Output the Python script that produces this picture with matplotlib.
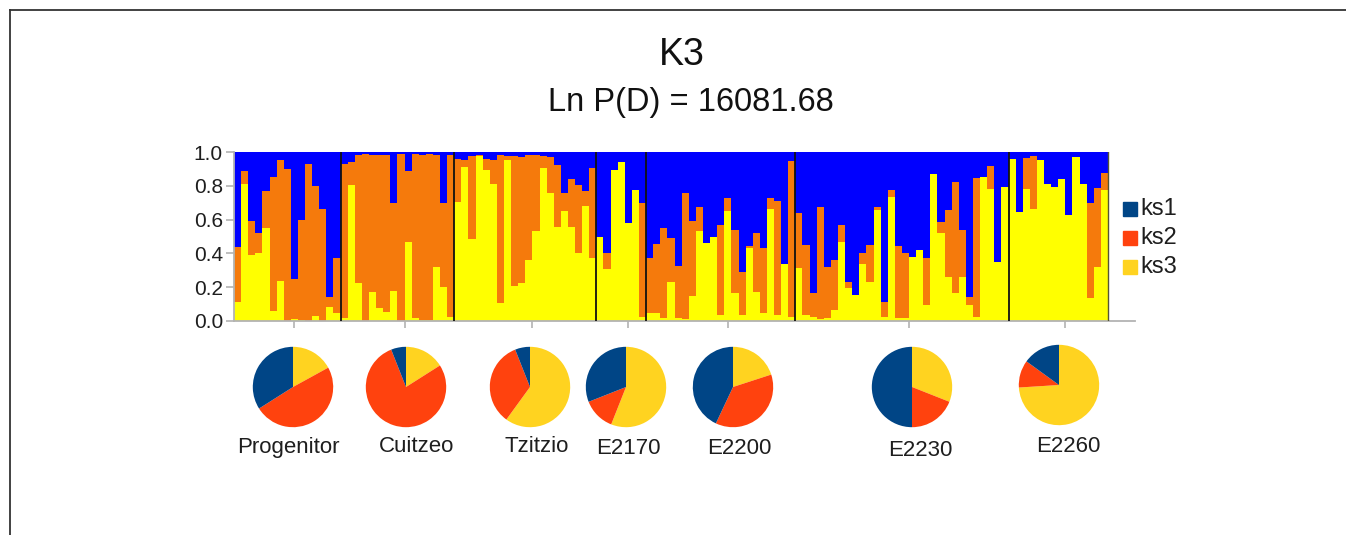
import matplotlib
matplotlib.use("Agg")
import matplotlib.pyplot as plt
import numpy as np
from matplotlib.patches import Rectangle
from matplotlib.lines import Line2D

plt.rcParams['font.family'] = ['Liberation Sans', 'DejaVu Sans']

# ---------------- data ----------------
title = "K3"
subtitle = "Ln P(D) = 16081.68"
cluster_labels = ["ks1", "ks2", "ks3"]
group_names = ["Progenitor", "Cuitzeo", "Tzitzio", "E2170", "E2200", "E2230", "E2260"]
group_sizes = [15, 16, 20, 7, 21, 30, 14]

# membership proportions per individual (ks1 = 1 - ks2 - ks3)
ks3 = [
    # Progenitor
    0.115, 0.81, 0.39, 0.40, 0.55, 0.06, 0.235, 0.0, 0.01, 0.005, 0.0, 0.03, 0.0, 0.08, 0.045,
    # Cuitzeo
    0.02, 0.805, 0.227, 0.0, 0.17, 0.075, 0.055, 0.18, 0.0, 0.47, 0.015, 0.005, 0.005, 0.32, 0.20, 0.025,
    # Tzitzio
    0.705, 0.91, 0.485, 0.975, 0.895, 0.81, 0.105, 0.95, 0.21, 0.227, 0.36, 0.53, 0.905, 0.76,
    0.555, 0.65, 0.555, 0.40, 0.68, 0.37,
    # E2170
    0.50, 0.31, 0.895, 0.94, 0.58, 0.775, 0.025,
    # E2200
    0.045, 0.045, 0.02, 0.23, 0.015, 0.01, 0.145, 0.535, 0.46, 0.50, 0.035, 0.65, 0.165, 0.035,
    0.43, 0.17, 0.045, 0.665, 0.035, 0.34, 0.025,
    # E2230
    0.315, 0.035, 0.025, 0.01, 0.015, 0.065, 0.47, 0.193, 0.154, 0.34, 0.233, 0.655, 0.025, 0.732,
    0.015, 0.015, 0.38, 0.42, 0.095, 0.868, 0.523, 0.263, 0.164, 0.263, 0.095, 0.025, 0.85, 0.78,
    0.35, 0.795,
    # E2260
    0.957, 0.647, 0.78, 0.66, 0.953, 0.81, 0.795, 0.838, 0.627, 0.968, 0.81, 0.134, 0.32, 0.775,
]
ks2 = [
    # Progenitor
    0.32, 0.075, 0.20, 0.12, 0.22, 0.79, 0.715, 0.90, 0.24, 0.59, 0.93, 0.77, 0.66, 0.06, 0.325,
    # Cuitzeo
    0.91, 0.135, 0.753, 0.99, 0.81, 0.905, 0.925, 0.52, 0.99, 0.42, 0.975, 0.975, 0.985, 0.66, 0.50, 0.955,
    # Tzitzio
    0.255, 0.04, 0.49, 0.005, 0.065, 0.145, 0.875, 0.025, 0.765, 0.743, 0.62, 0.45, 0.07, 0.21,
    0.37, 0.105, 0.285, 0.405, 0.09, 0.535,
    # E2170
    0.0, 0.09, 0.0, 0.0, 0.0, 0.0, 0.675,
    # E2200
    0.325, 0.41, 0.53, 0.26, 0.31, 0.75, 0.445, 0.14, 0.0, 0.0, 0.535, 0.08, 0.375, 0.255,
    0.015, 0.35, 0.385, 0.06, 0.675, 0.0, 0.92,
    # E2230
    0.322, 0.415, 0.14, 0.665, 0.305, 0.295, 0.098, 0.04, 0.0, 0.06, 0.217, 0.02, 0.089, 0.043,
    0.429, 0.385, 0.0, 0.0, 0.275, 0.0, 0.065, 0.394, 0.66, 0.275, 0.049, 0.823, 0.0, 0.14,
    0.0, 0.0,
    # E2260
    0.0, 0.0, 0.183, 0.316, 0.0, 0.0, 0.0, 0.0, 0.0, 0.0, 0.0, 0.566, 0.465, 0.103,
]

# population-level mean memberships shown as pies
pie_ks1 = [0.34, 0.06, 0.06, 0.31, 0.43, 0.50, 0.15]
pie_ks2 = [0.49, 0.78, 0.34, 0.13, 0.37, 0.19, 0.11]
pie_ks3 = [0.17, 0.16, 0.60, 0.56, 0.20, 0.31, 0.74]

# ---------------- style ----------------
W, H = 1346, 535
bar_blue, bar_orange, bar_yellow = "#0000ff", "#f57a0c", "#ffff00"
pie_blue, pie_orange, pie_yellow = "#004586", "#ff420e", "#ffd320"
axis_gray = "#b3b3b3"
text_col = "#1e1e1e"

fig = plt.figure(figsize=(W / 100, H / 100), dpi=100)
fig.patch.set_facecolor("white")

# frame lines (top & left border of the original panel)
fig.add_artist(Line2D([10 / W, 10 / W], [0, 1 - 10 / H], color="#333333", lw=1.3))
fig.add_artist(Line2D([10 / W, 1], [1 - 10 / H, 1 - 10 / H], color="#333333", lw=1.3))

# ---------------- bar plot ----------------
n_total = len(ks3)
px_per_bar = (1108 - 234) / n_total
ax_left, ax_right, ax_top, ax_bottom = 234, 1135, 152, 321
ax = fig.add_axes([ax_left / W, 1 - ax_bottom / H, (ax_right - ax_left) / W, (ax_bottom - ax_top) / H])

k3 = np.array(ks3)
k2 = np.array(ks2)
k1 = 1 - k2 - k3
x = np.arange(n_total)
common = dict(width=1, align="edge", linewidth=0, antialiased=False)
ax.bar(x, k3, color=bar_yellow, **common)
ax.bar(x, k2, bottom=k3, color=bar_orange, **common)
ax.bar(x, k1, bottom=k3 + k2, color=bar_blue, **common)

bounds = np.cumsum(group_sizes)
for b in bounds[:-1]:
    ax.axvline(b, color="#111111", lw=1.3, zorder=5)
ax.axvline(bounds[-1], color="#555533", lw=1.0, zorder=5)

ax.set_xlim(0, (ax_right - ax_left) / px_per_bar)
ax.set_ylim(0, 1)
starts = np.concatenate([[0], bounds[:-1]])
centers = starts + np.array(group_sizes) / 2 + 1.0
ax.set_xticks(centers)
ax.set_xticklabels([])
ax.tick_params(axis="x", length=5, color=axis_gray, width=1.2, direction="out")
ax.set_yticks([0, 0.2, 0.4, 0.6, 0.8, 1.0])
ax.set_yticklabels(["0.0", "0.2", "0.4", "0.6", "0.8", "1.0"], fontsize=15, color=text_col)
ax.tick_params(axis="y", length=6, color=axis_gray, width=1.2, pad=2)
for s in ["top", "right"]:
    ax.spines[s].set_visible(False)
for s in ["left", "bottom"]:
    ax.spines[s].set_color(axis_gray)
    ax.spines[s].set_linewidth(1.3)

# ---------------- titles ----------------
fig.text(682 / W, 1 - 55 / H, title, ha="center", va="center", fontsize=27, color="#111111")
fig.text(691 / W, 1 - 103 / H, subtitle, ha="center", va="center", fontsize=23.5, color="#111111")

# ---------------- legend ----------------
leg_cols = [pie_blue, pie_orange, pie_yellow]
leg_y = [209, 238, 267]
for lab, col, yy in zip(cluster_labels, leg_cols, leg_y):
    fig.add_artist(Rectangle((1123 / W, 1 - (yy + 7) / H), 14 / W, 14 / H, color=col,
                             transform=fig.transFigure))
    fig.text(1140 / W, 1 - yy / H, lab, ha="left", va="center", fontsize=17, color=text_col)

# ---------------- pies ----------------
pie_centers = [(293, 387), (406, 387), (530, 387), (626, 387), (733, 387), (912, 387), (1059, 385)]
label_pos = [(288, 448), (417, 447), (537, 447), (628, 448), (739, 448), (920, 450), (1068, 447)]
r = 41
for i, name in enumerate(group_names):
    cx, cy = pie_centers[i]
    pax = fig.add_axes([(cx - r) / W, 1 - (cy + r) / H, 2 * r / W, 2 * r / H])
    pax.pie([pie_ks3[i], pie_ks2[i], pie_ks1[i]], colors=[pie_yellow, pie_orange, pie_blue],
            startangle=90, counterclock=False, wedgeprops=dict(linewidth=0))
    pax.set_aspect("equal")
    pax.set_xlim(-1.02, 1.02)
    pax.set_ylim(-1.02, 1.02)
    pax.axis("off")
    lx, ly = label_pos[i]
    fig.text(lx / W, 1 - ly / H, name, ha="center", va="center", fontsize=16, color=text_col)

fig.savefig("out.png", dpi=100)
